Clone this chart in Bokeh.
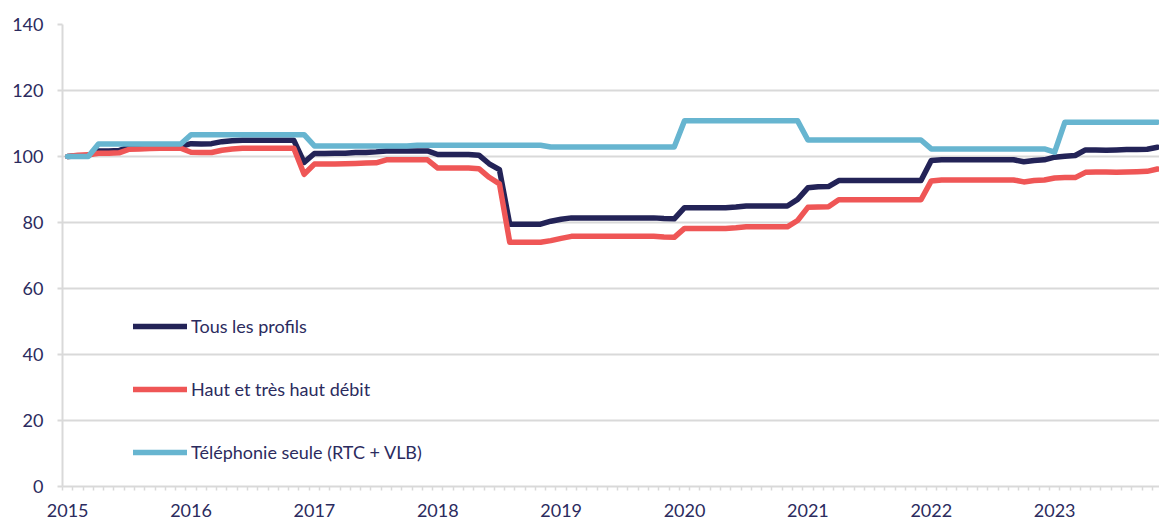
from bokeh.plotting import figure
from bokeh.models import (FixedTicker, Range1d, Legend, LegendItem)
from bokeh.embed import file_html
from bokeh.resources import INLINE

# ---- data (monthly index, Jan 2015 = 0) ----
months = list(range(107))
year_ticks = [0, 12, 24, 36, 48, 60, 72, 84, 96]
year_labels = ["2015", "2016", "2017", "2018", "2019", "2020", "2021", "2022", "2023"]
y_ticks = [0, 20, 40, 60, 80, 100, 120, 140]

tous = ([100.0, 100.2, 100.3, 101.7, 101.7, 101.8, 102.9, 103.0, 103.0, 103.1, 103.1, 103.1,
         103.9, 103.8, 103.9, 104.5, 104.8] + [104.9] * 6 + [98.2,
         100.9, 100.9, 101.0, 101.0, 101.2, 101.2, 101.4] + [101.7] * 5 +
        [100.6] * 4 + [100.4, 97.8, 96.0] + [79.5] * 4 + [80.4, 81.0] + [81.4] * 9 +
        [81.2, 81.1] + [84.5] * 5 + [84.7] + [85.0] * 5 +
        [87.0, 90.5, 90.8, 90.9] + [92.7] * 9 + [98.8] + [99.0] * 8 +
        [98.4, 98.8, 99.0, 99.8, 100.1, 100.3] +
        [102.0, 102.0, 101.9, 102.0, 102.1, 102.1, 102.2, 102.8])

haut = ([100.0, 100.4, 100.5, 101.0, 101.0, 101.1, 102.2, 102.3, 102.4, 102.5, 102.5, 102.5,
         101.3, 101.2, 101.2, 101.9, 102.3] + [102.5] * 6 + [94.6,
         97.7, 97.7, 97.7, 97.8, 97.9, 98.0, 98.1] + [99.0] * 5 +
        [96.5] * 4 + [96.3, 93.7, 91.7] + [74.0] * 4 + [74.5, 75.2] + [75.8] * 9 +
        [75.6, 75.5] + [78.2] * 5 + [78.4] + [78.7] * 5 +
        [80.6, 84.6, 84.7, 84.8] + [86.9] * 9 + [92.6] + [92.9] * 8 +
        [92.3, 92.7, 92.9, 93.5, 93.6, 93.6] +
        [95.2, 95.3, 95.3, 95.2, 95.3, 95.4, 95.5, 96.2])

telephonie = ([100.0] * 3 + [103.8] * 9 + [106.6] * 12 + [103.2] * 10 + [103.4] * 13 +
              [102.9] * 13 + [110.8] * 12 + [105.0] * 12 + [102.3] * 12 + [101.3] +
              [110.4] * 10)

series_names = ["Tous les profils", "Haut et très haut débit", "Téléphonie seule (RTC + VLB)"]
series_colors = ["#232357", "#ef5656", "#67b5d0"]

TEXT = "#2b2b5e"
GRID = "#d9d9d9"
FONT = "Lato"

p = figure(width=1159, height=520, output_backend="svg", toolbar_location=None,
           x_range=Range1d(-0.5, 106.2), y_range=Range1d(0, 140),
           min_border_left=62, min_border_right=0, min_border_top=24, min_border_bottom=34)
p.outline_line_color = None
p.background_fill_color = "white"
p.border_fill_color = "white"

renderers = []
for ys, c in zip([tous, haut, telephonie], series_colors):
    r = p.line(months, ys, line_color=c, line_width=5.5, line_cap="round", line_join="round")
    renderers.append(r)

# y axis
p.yaxis.ticker = FixedTicker(ticks=y_ticks)
p.yaxis.axis_line_color = GRID
p.yaxis.axis_line_width = 2
p.yaxis.major_tick_line_color = GRID
p.yaxis.major_tick_line_width = 2
p.yaxis.major_tick_out = 5
p.yaxis.major_tick_in = 0
p.yaxis.minor_tick_line_color = None
p.yaxis.major_label_standoff = 14
p.yaxis.major_label_text_font = FONT
p.yaxis.major_label_text_font_size = "18px"
p.yaxis.major_label_text_color = TEXT

# x axis
p.xaxis.ticker = FixedTicker(ticks=year_ticks, minor_ticks=[m - 0.5 for m in months])
p.xaxis.major_label_overrides = {t: l for t, l in zip(year_ticks, year_labels)}
p.xaxis.axis_line_color = GRID
p.xaxis.axis_line_width = 2
p.xaxis.major_tick_line_color = None
p.xaxis.major_tick_out = 0
p.xaxis.major_tick_in = 0
p.xaxis.minor_tick_line_color = GRID
p.xaxis.minor_tick_line_width = 1.5
p.xaxis.minor_tick_out = 4
p.xaxis.minor_tick_in = 0
p.xaxis.major_label_standoff = 13
p.xaxis.major_label_text_font = FONT
p.xaxis.major_label_text_font_size = "18px"
p.xaxis.major_label_text_color = TEXT

p.xgrid.grid_line_color = None
p.ygrid.ticker = FixedTicker(ticks=y_ticks)
p.ygrid.grid_line_color = GRID
p.ygrid.grid_line_width = 2

legend = Legend(items=[LegendItem(label=n, renderers=[r]) for n, r in zip(series_names, renderers)],
                location=(71, 23), orientation="vertical",
                glyph_width=54, glyph_height=20, label_height=20, spacing=41,
                padding=0, margin=0, label_standoff=4,
                border_line_color=None, background_fill_alpha=0,
                label_text_font=FONT, label_text_font_size="18px", label_text_color=TEXT)
p.add_layout(legend)

open("out.html", "w").write(file_html(p, INLINE))
